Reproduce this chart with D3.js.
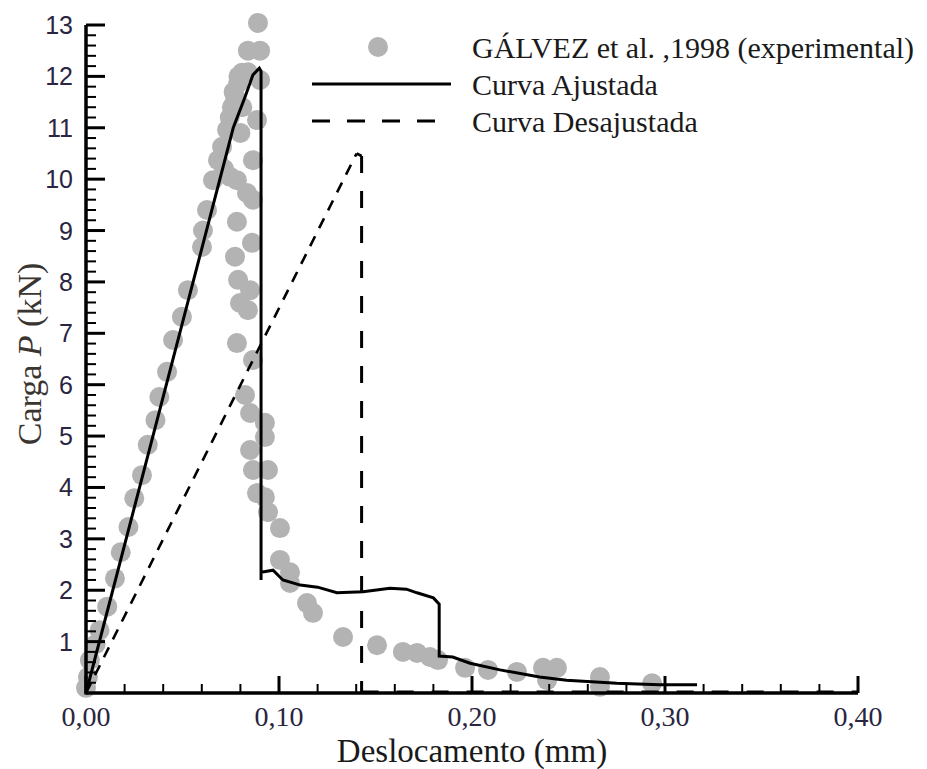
<!DOCTYPE html>
<html><head><meta charset="utf-8">
<script src="https://cdn.jsdelivr.net/npm/d3@7"></script>
<style>body{margin:0;background:#fff}svg{display:block}</style>
</head><body>
<svg id="chart" width="927" height="769"></svg>
<script>
// ---- data ----
const expX = [0.000,0.001,0.002,0.005,0.007,0.011,0.015,0.018,0.022,0.025,0.029,0.032,0.036,0.038,0.042,0.0451,0.0497,0.0528,0.0601,0.0606,0.0627,0.0658,0.0684,0.0705,0.0731,0.0756,0.0772,0.0788,0.0808,0.0839,0.0839,0.0902,0.0891,
  0.0745,0.0765,0.0790,0.0715,0.0745,0.0810,0.0800,
  0.0902,0.0886,0.0865,0.0782,0.0834,0.0865,0.0782,0.0860,0.0772,0.0788,0.0850,0.0798,0.0839,0.0782,0.0865,0.0824,0.0850,0.0927,0.0927,0.0850,0.0865,0.0943,0.0886,0.0927,0.0943,0.1005,0.1005,0.1057,0.1057,0.1145,0.1176,0.1332,0.1508,0.1642,0.1715,0.1782,0.1824,0.1964,0.2083,0.2233,0.2368,0.2440,0.2389,0.2663,0.2663,0.2933];
const expY = [0.10,0.31,0.64,0.95,1.22,1.68,2.23,2.74,3.23,3.79,4.24,4.83,5.31,5.76,6.25,6.87,7.32,7.84,8.68,9.00,9.40,9.98,10.37,10.63,10.96,11.40,11.60,11.87,12.07,12.08,12.50,12.50,13.04,
  11.20,11.70,12.00,10.20,10.05,11.40,10.90,
  11.93,11.15,10.37,9.98,9.73,9.60,9.17,8.76,8.49,8.04,7.84,7.59,7.45,6.81,6.48,5.80,5.45,5.26,4.98,4.73,4.34,4.34,3.89,3.81,3.52,3.21,2.59,2.35,2.14,1.75,1.56,1.09,0.93,0.80,0.78,0.70,0.64,0.49,0.45,0.41,0.49,0.49,0.25,0.31,0.12,0.19];

const ajX = [0,0.0763,0.0824,0.0865,0.0898,0.0907,0.0907,0.0907,0.0969,0.102,0.111,0.120,0.130,0.1435,0.1575,0.166,0.1715,0.180,0.183,0.183,0.190,0.199,0.2145,0.235,0.249,0.275,0.297,0.3166];
const ajY = [0,11.0,11.6,12.03,12.16,12.1,2.2,2.35,2.39,2.2,2.1,2.06,1.95,1.97,2.04,2.02,1.95,1.85,1.73,0.72,0.70,0.58,0.45,0.31,0.25,0.19,0.16,0.16];

const desX = [0,0.1402,0.1428,0.1428,0.40];
const desY = [0,10.5,10.45,0.02,0.02];

const xTicks = [0,0.1,0.2,0.3,0.4];
const xTickLabels = ["0,00","0,10","0,20","0,30","0,40"];
const yTicks = [1,2,3,4,5,6,7,8,9,10,11,12,13];
const legendLabels = ["GÁLVEZ et al. ,1998 (experimental)","Curva Ajustada","Curva Desajustada"];

// ---- drawing ----
const svg = d3.select("#chart");
const x = d3.scaleLinear().domain([0,0.4]).range([86,858]);
const y = d3.scaleLinear().domain([0,13]).range([693,25]);
const serif = "'Liberation Serif','Times New Roman',serif";
const sans = "'Liberation Sans',Arial,sans-serif";
const grey = "#b3b3b3";

// experimental points
svg.append("g").selectAll("circle").data(expX.map((d,i)=>[d,expY[i]])).join("circle")
  .attr("cx",d=>x(d[0])).attr("cy",d=>y(d[1])).attr("r",10).attr("fill",grey);

// curva ajustada
const line = d3.line().x(d=>x(d[0])).y(d=>y(d[1]));
svg.append("path").datum(ajX.map((d,i)=>[d,ajY[i]]))
  .attr("d",line).attr("fill","none").attr("stroke","#000").attr("stroke-width",3).attr("stroke-linejoin","miter");

// curva desajustada (segment-wise dash)
const desPts = desX.map((d,i)=>[d,desY[i]]);
for(let i=0;i<desPts.length-1;i++){
  const seg=[desPts[i],desPts[i+1]];
  const diag = i===0;
  svg.append("path").datum(seg).attr("d",line).attr("fill","none")
    .attr("stroke","#000").attr("stroke-width",diag?2.6:3)
    .attr("stroke-dasharray",diag?"11,9":"17,18");
}

// axes
const ax = svg.append("g");
ax.append("line").attr("x1",x(0)).attr("x2",x(0.4)).attr("y1",y(0)).attr("y2",y(0)).attr("stroke","#000").attr("stroke-width",3.5);
ax.append("line").attr("x1",x(0)).attr("x2",x(0)).attr("y1",y(0)+1.5).attr("y2",y(13)).attr("stroke","#000").attr("stroke-width",3.5);

// y ticks
const yMinor = d3.range(0,13.0001,0.2).filter(v=>Math.abs(v-Math.round(v))>1e-6);
ax.selectAll(".ymin").data(yMinor).join("line")
  .attr("x1",x(0)).attr("x2",x(0)+10).attr("y1",d=>y(d)).attr("y2",d=>y(d)).attr("stroke","#000").attr("stroke-width",2);
ax.selectAll(".ymaj").data(yTicks).join("line")
  .attr("x1",x(0)).attr("x2",x(0)+19).attr("y1",d=>y(d)).attr("y2",d=>y(d)).attr("stroke","#000").attr("stroke-width",3);
ax.selectAll(".ylab").data(yTicks).join("text")
  .attr("x",73).attr("y",d=>y(d)).attr("dy","0.36em").attr("text-anchor","end")
  .attr("font-family",sans).attr("font-size",25).attr("fill","#2a2540").text(d=>d);

// x ticks
const xMinor = d3.range(0,0.40001,0.02).filter(v=>Math.abs(v*10-Math.round(v*10))>1e-6);
ax.selectAll(".xmin").data(xMinor).join("line")
  .attr("x1",d=>x(d)).attr("x2",d=>x(d)).attr("y1",y(0)).attr("y2",y(0)-9).attr("stroke","#000").attr("stroke-width",2);
ax.selectAll(".xmaj").data(xTicks).join("line")
  .attr("x1",d=>x(d)).attr("x2",d=>x(d)).attr("y1",y(0)).attr("y2",y(0)-17).attr("stroke","#000").attr("stroke-width",3);
ax.selectAll(".xlab").data(xTicks).join("text")
  .attr("x",d=>x(d)).attr("y",726).attr("text-anchor","middle")
  .attr("font-family",serif).attr("font-size",28).attr("fill","#2a2540").text((d,i)=>xTickLabels[i]);

// axis titles
svg.append("text").attr("x",(x(0)+x(0.4))/2).attr("y",762).attr("text-anchor","middle")
  .attr("font-family",serif).attr("font-size",33).attr("fill","#1a1a1a").text("Deslocamento (mm)");
const yt = svg.append("text").attr("transform","translate(41,354) rotate(-90)").attr("text-anchor","middle")
  .attr("font-family",serif).attr("font-size",34).attr("fill","#3a3530");
yt.append("tspan").text("Carga ");
yt.append("tspan").attr("font-style","italic").text("P");
yt.append("tspan").text(" (kN)");

// legend
const lg = svg.append("g");
const rowY = [47,84,121];
lg.append("circle").attr("cx",378).attr("cy",rowY[0]).attr("r",10).attr("fill",grey);
lg.append("line").attr("x1",312).attr("x2",451).attr("y1",rowY[1]).attr("y2",rowY[1]).attr("stroke","#000").attr("stroke-width",3);
lg.append("line").attr("x1",312).attr("x2",451).attr("y1",rowY[2]).attr("y2",rowY[2]).attr("stroke","#000").attr("stroke-width",3).attr("stroke-dasharray","18,17");
lg.selectAll("text").data(legendLabels).join("text")
  .attr("x",472).attr("y",(d,i)=>rowY[i]).attr("dy","0.35em")
  .attr("font-family",serif).attr("font-size",30).attr("fill","#1a1a1a").text(d=>d);
</script>
</body></html>
